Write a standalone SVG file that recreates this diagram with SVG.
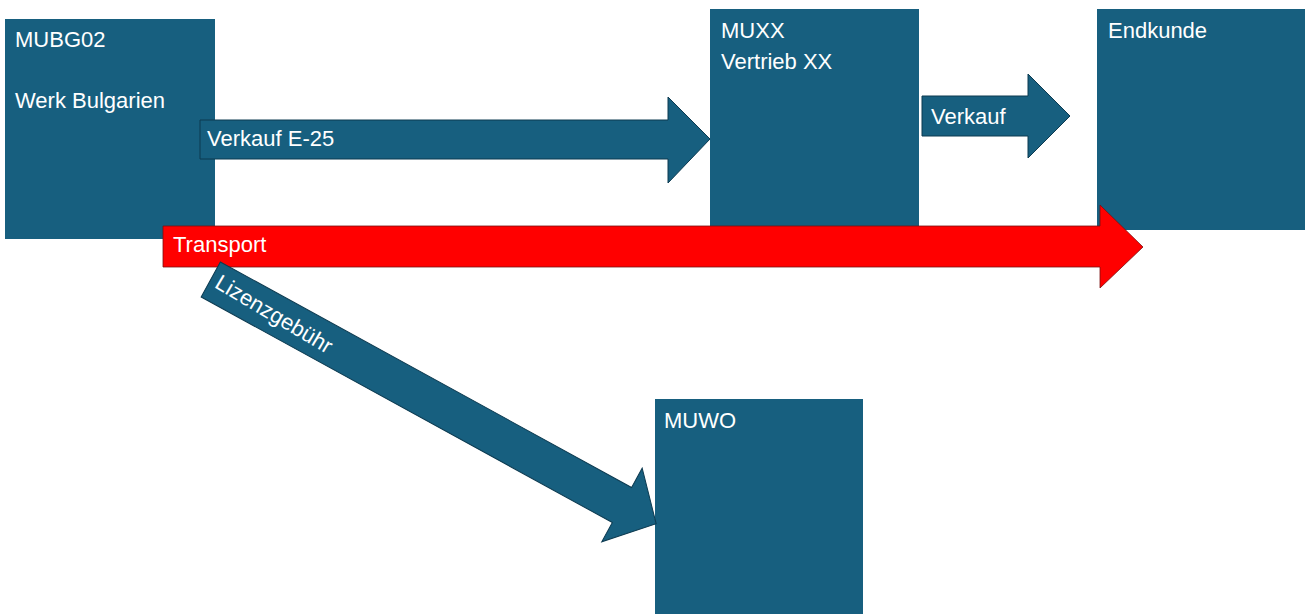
<svg xmlns="http://www.w3.org/2000/svg" width="1305" height="614" viewBox="0 0 1305 614">
<style>
.box{fill:#175F7F}
.arr{fill:#175F7F;stroke:#0c3a50;stroke-width:1}
.red{fill:#FF0000;stroke:#7a1010;stroke-width:0.8}
.t{font-family:"Liberation Sans",Arial,sans-serif;font-size:22px;fill:#FFFFFF}
</style>
<rect width="1305" height="614" fill="#FFFFFF"/>
<g id="node-mubg02">
<rect class="box" x="5" y="19" width="210" height="220"/>
<text class="t" x="15" y="47">MUBG02</text>
<text class="t" x="15" y="108">Werk Bulgarien</text>
</g>
<g id="node-muxx">
<rect class="box" x="710" y="9" width="209" height="218"/>
<text class="t" x="721" y="38">MUXX</text>
<text class="t" x="721" y="69">Vertrieb XX</text>
</g>
<g id="node-endkunde">
<rect class="box" x="1097" y="9" width="208" height="221"/>
<text class="t" x="1108" y="38">Endkunde</text>
</g>
<g id="node-muwo">
<rect class="box" x="655" y="399" width="208" height="215"/>
<text class="t" x="664" y="428">MUWO</text>
</g>
<g id="connectors">
<g id="arrow-verkauf-e25">
<polygon class="arr" points="200,120 668,120 668,97 710,139 668,183 668,159 200,159"/>
<text class="t" x="207" y="146">Verkauf E-25</text>
</g>
<g id="arrow-verkauf">
<polygon class="arr" points="922,96 1028,96 1028,74 1070,116 1028,158 1028,136 922,136"/>
<text class="t" x="931" y="124">Verkauf</text>
</g>
<g id="arrow-transport">
<polygon class="red" points="163,226 1100,226 1100,205 1143,247 1100,288 1100,267 163,267"/>
<text class="t" x="173" y="252">Transport</text>
</g>
<g id="arrow-lizenz" transform="translate(210.75,279.5) rotate(28.74)">
<polygon class="arr" points="0,-20 469,-20 469,-42 508,0 469,42 469,20 0,20"/>
<text class="t" x="6" y="5" transform="rotate(2 6 5)">Lizenzgebühr</text>
</g>
</g>
</svg>
